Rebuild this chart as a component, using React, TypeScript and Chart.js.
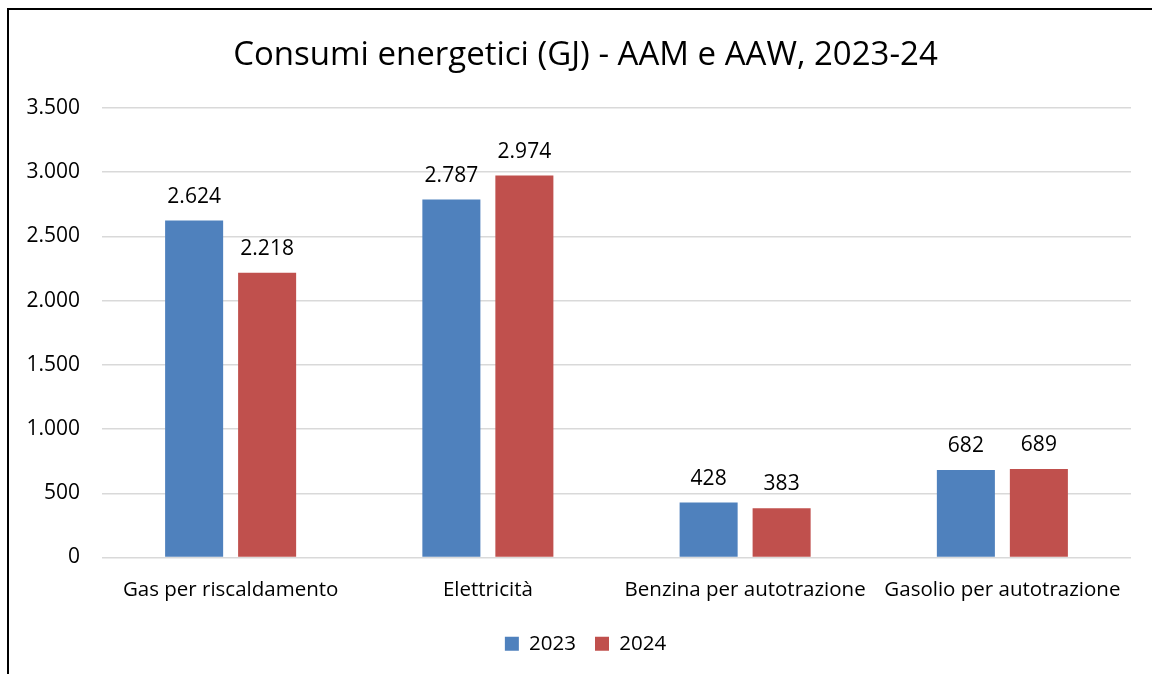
import { useEffect, useRef } from 'react';
import { Chart, registerables } from 'chart.js';

Chart.register(...registerables);

const categories = ['Gas per riscaldamento', 'Elettricità', 'Benzina per autotrazione', 'Gasolio per autotrazione'];
const values2023 = [2624, 2787, 428, 682];
const values2024 = [2218, 2974, 383, 689];
const seriesNames = ['2023', '2024'];
const seriesColors = ['#4F81BD', '#C0504D'];
const yMin = 0;
const yMax = 3500;
const yStep = 500;
const titleText = 'Consumi energetici (GJ) - AAM e AAW, 2023-24';

const FONT = '"Open Sans", "Noto Sans", sans-serif';

function fmt(v: number): string {
  return String(Math.round(v)).replace(/\B(?=(\d{3})+(?!\d))/g, '.');
}

const valueLabels = {
  id: 'valueLabels',
  afterDatasetsDraw(chart: any) {
    const ctx = chart.ctx;
    ctx.save();
    ctx.font = `21px ${FONT}`;
    ctx.fillStyle = '#000';
    ctx.textAlign = 'center';
    ctx.textBaseline = 'alphabetic';
    chart.data.datasets.forEach((ds: any, i: number) => {
      const meta = chart.getDatasetMeta(i);
      meta.data.forEach((bar: any, j: number) => {
        ctx.fillText(fmt(ds.data[j]), bar.x, bar.y - 18);
      });
    });
    ctx.restore();
  },
};

export default function App() {
  const ref = useRef<HTMLCanvasElement | null>(null);

  useEffect(() => {
    if (!ref.current) return;
    const chart = new Chart(ref.current, {
      type: 'bar',
      data: {
        labels: categories,
        datasets: [
          {
            label: seriesNames[0],
            data: values2023,
            backgroundColor: seriesColors[0],
            categoryPercentage: 0.5675,
            barPercentage: 0.795,
          },
          {
            label: seriesNames[1],
            data: values2024,
            backgroundColor: seriesColors[1],
            categoryPercentage: 0.5675,
            barPercentage: 0.795,
          },
        ],
      },
      options: {
        responsive: false,
        animation: false,
        layout: { padding: { left: 40, right: 21, top: 0, bottom: 10 } },
        scales: {
          x: {
            grid: { display: false },
            border: { display: false },
            ticks: {
              color: '#000',
              font: { family: FONT, size: 20.5 },
              padding: 12.5,
              maxRotation: 0,
              autoSkip: false,
            },
            afterFit: (axis: any) => {
              axis.height = 57;
            },
          },
          y: {
            min: yMin,
            max: yMax,
            border: { display: false },
            grid: { color: '#D9D9D9', lineWidth: 1.5, drawTicks: false },
            ticks: {
              stepSize: yStep,
              color: '#000',
              font: { family: FONT, size: 21 },
              padding: 22,
              callback: (v: any) => fmt(Number(v)),
            },
            afterFit: (axis: any) => {
              axis.width = 62;
              axis._computeLabelArea = () => undefined;
            },
          },
        },
        plugins: {
          title: {
            display: true,
            text: titleText,
            color: '#000',
            font: { family: FONT, size: 33, weight: 'normal' },
            padding: { top: 36.2, bottom: 32.2 },
          },
          legend: {
            position: 'bottom',
            labels: {
              boxWidth: 14,
              boxHeight: 14,
              padding: 19,
              color: '#000',
              font: { family: FONT, size: 20.5 },
            },
          },
          tooltip: { enabled: false },
        },
      },
      plugins: [valueLabels],
    });
    return () => chart.destroy();
  }, []);

  return (
    <>
      <div
        style={{
          position: 'fixed',
          left: 7,
          top: 8,
          width: 1160,
          height: 680,
          borderLeft: '2px solid #000',
          borderTop: '2px solid #000',
          boxSizing: 'border-box',
        }}
      />
      <canvas
        ref={ref}
        width={1152}
        height={674}
        style={{ position: 'fixed', left: 0, top: 0, width: 1152, height: 674 }}
      />
    </>
  );
}
